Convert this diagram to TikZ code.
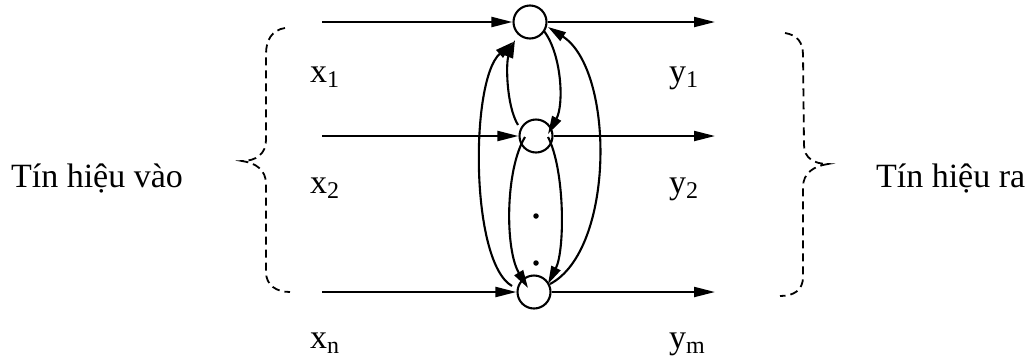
\documentclass[tikz,border=0pt]{standalone}
\usepackage{fontspec}
\setmainfont{Liberation Serif}
\usetikzlibrary{arrows.meta,calc}
\newcommand\lblsub[1]{\raisebox{-5pt}{\fontsize{24}{24}\selectfont #1}}
\begin{document}
\begin{tikzpicture}[x=1pt,y=-1pt,
  line width=2.1pt,
  arr/.style={-{Triangle[length=21pt,width=10pt]}},
  carr/.style={-{Triangle[length=18pt,width=10pt]}},
  neuron/.style={circle,draw,line width=2.1pt,minimum size=33pt,inner sep=0pt},
  brace/.style={dash pattern=on 8pt off 5pt,line width=1.8pt},
  big/.style={font=\fontsize{34}{40}\selectfont,inner sep=0pt},
  dotn/.style={circle,fill,inner sep=0pt,minimum size=5.5pt},
]
\useasboundingbox (0,0) rectangle (1030,357);

% neurons
\node[neuron] (t) at (530,22) {};
\node[neuron] (m) at (536,136) {};
\node[neuron] (b) at (534,292) {};

% inputs / outputs
\coordinate (in1) at (322,22);
\coordinate (in2) at (322,136);
\coordinate (in3) at (322,292);
\coordinate (out1) at (715,22);
\coordinate (out2) at (715,136);
\coordinate (out3) at (715,292);
\draw[arr] (in1) -- (t);
\draw[arr] (in2) -- (m);
\draw[arr] (in3) -- (b);
\draw[arr] (t) -- (out1);
\draw[arr] (m) -- (out2);
\draw[arr] (b) -- (out3);

% feedback connections
\draw[carr] ($(m)+(-18,-11)$) .. controls (506,105) and (506,62) .. ($(t)+(-15,18)$);
\draw[carr] ($(t)+(14,9)$) .. controls (562,55) and (564,105) .. ($(m)+(12,-2)$);
\draw[carr] ($(b)+(-22,-6)$) .. controls (470,262) and (470,80) .. ($(t)+(-17,20)$);
\draw[carr] ($(b)+(16,-8)$) .. controls (615,250) and (615,70) .. ($(t)+(18,5)$);
\draw[carr] ($(m)+(-11,1)$) .. controls (505,170) and (505,250) .. ($(b)+(-6,-4)$);
\draw[carr] ($(m)+(12,1)$) .. controls (565,170) and (565,250) .. ($(b)+(14,-8)$);

% dots
\node[dotn] (d1) at (536,216) {};
\node[dotn] (d2) at (536,263) {};

% braces
\draw[brace] (285,28) .. controls (272,30) and (266,40) .. (266,54) -- (266,140)
  .. controls (266,154) and (256,161) .. (242,161)
  .. controls (256,163) and (266,170) .. (266,184) -- (266,272)
  .. controls (266,285) and (276,292) .. (290,292);
\draw[brace] (785,33) .. controls (797,35) and (803,42) .. (803,55) -- (804,145)
  .. controls (804,158) and (814,164) .. (828,164)
  .. controls (814,166) and (803,173) .. (803,187) -- (803,277)
  .. controls (803,290) and (794,296) .. (780,296);

% labels
\node[big,anchor=base west] (lin) at (10,187) {Tín hiệu vào};
\node[big,anchor=base west] (lout) at (875,187) {Tín hiệu ra};
\node[big,anchor=base west] (lx1) at (309,82) {x\lblsub{1}};
\node[big,anchor=base west] (lx2) at (309,193) {x\lblsub{2}};
\node[big,anchor=base west] (lxn) at (309,348) {x\lblsub{n}};
\node[big,anchor=base west] (ly1) at (668,82) {y\lblsub{1}};
\node[big,anchor=base west] (ly2) at (668,193) {y\lblsub{2}};
\node[big,anchor=base west] (lym) at (668,348) {y\lblsub{m}};
\end{tikzpicture}
\end{document}
